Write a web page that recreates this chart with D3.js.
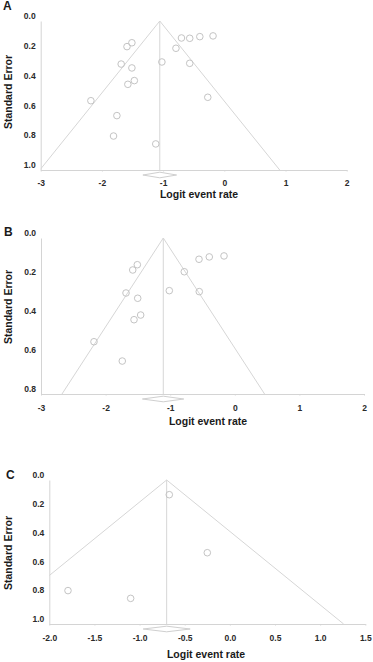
<!DOCTYPE html>
<html lang="en">
<head>
<meta charset="UTF-8">
<title>Funnel plots</title>
<style>
    body { margin: 0; padding: 0; background: #fff; }
    svg { display: block; font-family: "Liberation Sans", Arial, sans-serif; }
    .tick text { font-size: 8.5px; font-weight: bold; fill: #2a2a2a; }
    .axis path, .axis line { stroke: #d4d4d4; stroke-width: 1; }
    .funnel { fill: none; stroke: #d6d6d6; stroke-width: 1; }
    .study { fill: none; stroke: #c4c4c4; stroke-width: 1; }
    .diamond { fill: #fff; stroke: #cfcfcf; stroke-width: 1; }
    .title { font-size: 10.5px; font-weight: bold; fill: #1a1a1a; }
    .letter { font-size: 12px; font-weight: bold; fill: #1a1a1a; }
</style>
</head>
<body>
<svg id="chart" width="373" height="662"></svg>

<script src="https://cdn.jsdelivr.net/npm/d3@7/dist/d3.min.js"></script>
<script>
    // panel A
    const aLogit = [-1.51, -1.59, -0.70, -0.565, -0.40, -0.184, -0.79, -1.02, -0.565, -1.685, -1.51, -1.47, -1.576, -2.18, -0.27, -1.755, -1.81, -1.12];
    const aSE    = [0.146, 0.172, 0.114, 0.116, 0.105, 0.100, 0.183, 0.275, 0.284, 0.289, 0.315, 0.400, 0.425, 0.535, 0.512, 0.635, 0.772, 0.825];
    const aMean = -1.054;
    const aCI = [-1.33, -0.78];

    // panel B
    const bLogit = [-1.509, -1.58, -0.554, -0.395, -0.167, -0.782, -1.014, -0.55, -1.684, -1.503, -1.457, -1.56, -2.18, -1.742];
    const bSE    = [0.137, 0.164, 0.109, 0.097, 0.092, 0.173, 0.270, 0.275, 0.282, 0.309, 0.395, 0.419, 0.532, 0.631];
    const bMean = -1.107;
    const bCI = [-1.43, -0.79];

    // panel C
    const cLogit = [-0.671, -0.25, -1.793, -1.099];
    const cSE    = [0.102, 0.505, 0.768, 0.822];
    const cMean = -0.70;
    const cCI = [-0.96, -0.44];

    const abTicksX = [-3, -2, -1, 0, 1, 2];
    const cTicksX = [-2.0, -1.5, -1.0, -0.5, 0.0, 0.5, 1.0, 1.5];
    const aTicksY = [0, 0.2, 0.4, 0.6, 0.8, 1.0];
    const bTicksY = [0, 0.2, 0.4, 0.6, 0.8];
    const cTicksY = [0, 0.2, 0.4, 0.6, 0.8, 1.0];

    const svg = d3.select('#chart');

    const panels = [
        { id: 'A', logit: aLogit, se: aSE, mean: aMean, ci: aCI,
          xDomain: [-3, 2], xTicks: abTicksX, xFmt: d => String(d),
          yMax: 1.0, yTicks: aTicksY,
          left: 40.7, right: 346.7, top: 21, bottom: 170,
          xPad: 8, letterX: 3, letterY: 10,
          titleX: 199, titleY: 198, seTitleY: 92 },
        { id: 'B', logit: bLogit, se: bSE, mean: bMean, ci: bCI,
          xDomain: [-3, 2], xTicks: abTicksX, xFmt: d => String(d),
          yMax: 0.8, yTicks: bTicksY,
          left: 41, right: 364, top: 238, bottom: 394,
          xPad: 9, letterX: 4, letterY: 236,
          titleX: 208, titleY: 425, seTitleY: 307 },
        { id: 'C', logit: cLogit, se: cSE, mean: cMean, ci: cCI,
          xDomain: [-2, 1.5], xTicks: cTicksX, xFmt: d => d.toFixed(1),
          yMax: 1.0, yTicks: cTicksY,
          left: 49.3, right: 365.3, top: 480, bottom: 624,
          xPad: 9, letterX: 6, letterY: 479,
          titleX: 206, titleY: 658, seTitleY: 553 }
    ];

    panels.forEach(p => {
        const x = d3.scaleLinear().domain(p.xDomain).range([p.left, p.right]);
        const y = d3.scaleLinear().domain([0, p.yMax]).range([p.top, p.bottom]);
        const g = svg.append('g');

        const clipId = 'clip' + p.id;
        svg.append('clipPath').attr('id', clipId)
            .append('rect')
            .attr('x', p.left).attr('y', p.top - 2)
            .attr('width', p.right - p.left).attr('height', p.bottom - p.top + 2);

        // y axis, labels sit a little above their ticks
        const yAxis = g.append('g')
            .attr('class', 'axis')
            .attr('transform', `translate(${p.left},0)`)
            .call(d3.axisLeft(y).tickValues(p.yTicks).tickFormat(d => d.toFixed(1))
                .tickSize(0).tickSizeOuter(0).tickPadding(5));
        yAxis.selectAll('.tick text').attr('y', -5);

        // x axis
        g.append('g')
            .attr('class', 'axis')
            .attr('transform', `translate(0,${p.bottom})`)
            .call(d3.axisBottom(x).tickValues(p.xTicks).tickFormat(p.xFmt)
                .tickSize(1.5).tickSizeOuter(0).tickPadding(p.xPad));

        // funnel and mean line
        const seMax = p.yMax;
        const funnel = [
            [p.mean - 1.96 * seMax, seMax],
            [p.mean, 0],
            [p.mean + 1.96 * seMax, seMax]
        ];
        g.append('path')
            .attr('class', 'funnel')
            .attr('clip-path', `url(#${clipId})`)
            .attr('d', d3.line().x(d => x(d[0])).y(d => y(d[1]))(funnel));
        g.append('line')
            .attr('class', 'funnel')
            .attr('x1', x(p.mean)).attr('x2', x(p.mean))
            .attr('y1', y(0)).attr('y2', y(seMax));

        // studies
        g.selectAll('.study')
            .data(p.logit.map((v, i) => ({ v, se: p.se[i] })))
            .enter().append('circle')
            .attr('class', 'study')
            .attr('cx', d => x(d.v))
            .attr('cy', d => y(d.se))
            .attr('r', 3.3);

        // summary diamond under the axis
        const dy = p.bottom + 5;
        g.append('path')
            .attr('class', 'diamond')
            .attr('d', `M${x(p.ci[0])},${dy}L${x(p.mean)},${dy - 2.8}L${x(p.ci[1])},${dy}L${x(p.mean)},${dy + 2.8}Z`);

        // titles
        g.append('text')
            .attr('class', 'title')
            .attr('x', p.titleX).attr('y', p.titleY)
            .attr('text-anchor', 'middle')
            .text('Logit event rate');
        g.append('text')
            .attr('class', 'title')
            .attr('transform', `translate(11.5,${p.seTitleY}) rotate(-90)`)
            .attr('text-anchor', 'middle')
            .text('Standard Error');
        g.append('text')
            .attr('class', 'letter')
            .attr('x', p.letterX).attr('y', p.letterY)
            .text(p.id);
    });
</script>
</body>
</html>
